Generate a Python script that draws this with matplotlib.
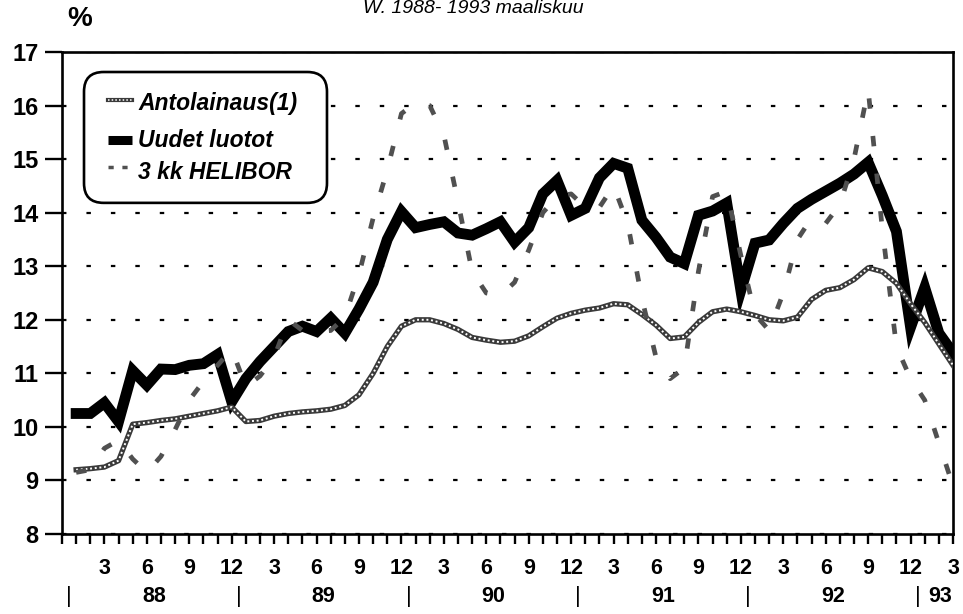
import matplotlib
matplotlib.use('Agg')
import numpy as np
import matplotlib.pyplot as plt
from matplotlib.patches import FancyBboxPatch
from matplotlib.transforms import blended_transform_factory

plt.rcParams['font.family'] = ['Liberation Sans', 'DejaVu Sans']

# ===== kuukausidata 1/1988 - 3/1993 (%) =====
antolainaus = [9.20, 9.22, 9.25, 9.37, 10.05, 10.08, 10.12, 10.15, 10.20, 10.25, 10.30, 10.37,
               10.10, 10.12, 10.20, 10.25, 10.28, 10.30, 10.33, 10.40, 10.60, 11.00, 11.50, 11.88,
               12.00, 12.00, 11.93, 11.82, 11.67, 11.62, 11.58, 11.60, 11.70, 11.87, 12.03, 12.12,
               12.18, 12.22, 12.30, 12.28, 12.10, 11.90, 11.65, 11.68, 11.95, 12.15, 12.20, 12.15,
               12.08, 12.00, 11.98, 12.05, 12.38, 12.55, 12.60, 12.75, 12.97, 12.90, 12.68, 12.30,
               11.95, 11.55, 11.15]
uudet_luotot = [10.25, 10.25, 10.45, 10.10, 11.05, 10.78, 11.08, 11.07, 11.15, 11.18, 11.35, 10.47,
                10.90, 11.22, 11.50, 11.78, 11.88, 11.78, 12.03, 11.75, 12.20, 12.70, 13.50, 14.02,
                13.72, 13.78, 13.83, 13.62, 13.58, 13.70, 13.83, 13.45, 13.72, 14.35, 14.60, 13.95,
                14.08, 14.65, 14.92, 14.83, 13.86, 13.54, 13.17, 13.05, 13.95, 14.03, 14.18, 12.55,
                13.43, 13.49, 13.80, 14.08, 14.25, 14.40, 14.55, 14.72, 14.94, 14.32, 13.65, 11.86,
                12.60, 11.75, 11.38]
helibor = [9.15, 9.20, 9.60, 9.75, 9.40, 9.15, 9.45, 9.95, 10.50, 10.85, 11.15, 11.45,
           10.75, 10.95, 11.30, 12.00, 11.80, 11.78, 11.80, 12.05, 12.85, 13.90, 14.80, 15.85,
           16.05, 16.00, 15.45, 14.20, 12.90, 12.50, 12.45, 12.70, 13.30, 14.00, 14.30, 14.35,
           14.10, 14.10, 14.50, 13.80, 12.40, 11.30, 10.90, 11.10, 12.90, 14.30, 14.40, 13.20,
           12.10, 11.80, 12.50, 13.50, 13.90, 13.80, 14.15, 15.00, 16.30, 13.70, 11.50, 10.90,
           10.50, 9.70, 8.90]

month_labels = ['3', '6', '9', '12']
year_labels = ['88', '89', '90', '91', '92', '93']
series_names = ['Antolainaus(1)', 'Uudet luotot', '3 kk HELIBOR']

n = len(uudet_luotot)
x = np.arange(n)

fig = plt.figure(figsize=(9.63, 6.14), dpi=100)
ax = fig.add_axes([62 / 963, 80 / 614, 891 / 963, 482 / 614])
ax.set_xlim(-1, n - 1)
ax.set_ylim(8, 17)

# vaakasuorat pisteviivat
ax.grid(axis='y', color='black', linewidth=1.6, linestyle=(0, (2, 9)))
ax.set_axisbelow(True)

# sarjat
ax.plot(x, uudet_luotot, color='black', lw=7.8, solid_joinstyle='miter', zorder=3)
ax.plot(x, antolainaus, color='#3a3a3a', lw=3.8, zorder=4)
ax.plot(x, antolainaus, color='white', lw=1.4, linestyle=(0, (1, 1.4)), zorder=5)
ax.plot(x, helibor, color='#505050', lw=3.4, linestyle=(0, (2.2, 5.8)), zorder=6)

# akselit
for sp in ax.spines.values():
    sp.set_linewidth(1.9)
ax.set_yticks(range(8, 18))
ax.tick_params(axis='y', direction='out', length=12, width=1.7, pad=5,
               labelsize=17)
for lab in ax.get_yticklabels():
    lab.set_fontweight('bold')

ax.set_xticks(np.arange(-1, n), minor=True)
major = [i for i in x if (i % 12) in (2, 5, 8, 11)]
ax.set_xticks(major)
ax.set_xticklabels([month_labels[(i % 12) // 3] for i in major],
                   fontsize=15.5, fontweight='bold')
ax.tick_params(axis='x', which='both', direction='out', length=7, width=1.7, pad=10)

# vuosirivi
trans = blended_transform_factory(ax.transData, ax.transAxes)
for k, yl in enumerate(year_labels):
    start = 12 * k - 0.5
    ax.text(start, -0.13, '|', transform=trans, ha='center', va='center',
            fontsize=16, clip_on=False)
    if k < len(year_labels) - 1:
        ax.text(start + 6, -0.13, yl, transform=trans, ha='center', va='center',
                fontsize=15.5, fontweight='bold', clip_on=False)
    else:
        ax.text(start + 1.6, -0.13, yl, transform=trans, ha='center', va='center',
                fontsize=15.5, fontweight='bold', clip_on=False)

# selite
box = FancyBboxPatch((0.0247, 0.687), 0.2727, 0.2715, transform=ax.transAxes,
                     boxstyle='round,pad=0,rounding_size=0.022',
                     mutation_aspect=891 / 482,
                     facecolor='white', edgecolor='black', lw=1.9, zorder=10)
ax.add_patch(box)
hx = [0.0516, 0.0786]
ax.plot(hx, [0.900, 0.900], transform=ax.transAxes, color='#3a3a3a', lw=3.0, zorder=11)
ax.plot(hx, [0.900, 0.900], transform=ax.transAxes, color='white', lw=1.1,
        linestyle=(0, (1, 1.4)), zorder=12)
ax.plot(hx, [0.817, 0.817], transform=ax.transAxes, color='black', lw=6.5,
        solid_capstyle='butt', zorder=11)
ax.plot(hx, [0.762, 0.762], transform=ax.transAxes, color='#505050', lw=2.5,
        linestyle=(0, (1.5, 2.5)), zorder=11)
for name, yy in zip(series_names, [0.894, 0.817, 0.751]):
    ax.text(0.0853, yy, name, transform=ax.transAxes, ha='left', va='center',
            fontsize=16.5, fontweight='bold', fontstyle='italic', zorder=12)

# otsikko ja yksikkö
fig.text(363 / 963, 1 - 13 / 614, 'W. 1988- 1993 maaliskuu', fontsize=14,
         fontstyle='italic', ha='left', va='baseline')
fig.text(80 / 963, 1 - 19 / 614, '%', fontsize=20, fontweight='bold',
         ha='center', va='center')

fig.savefig('out.png', dpi=100)
